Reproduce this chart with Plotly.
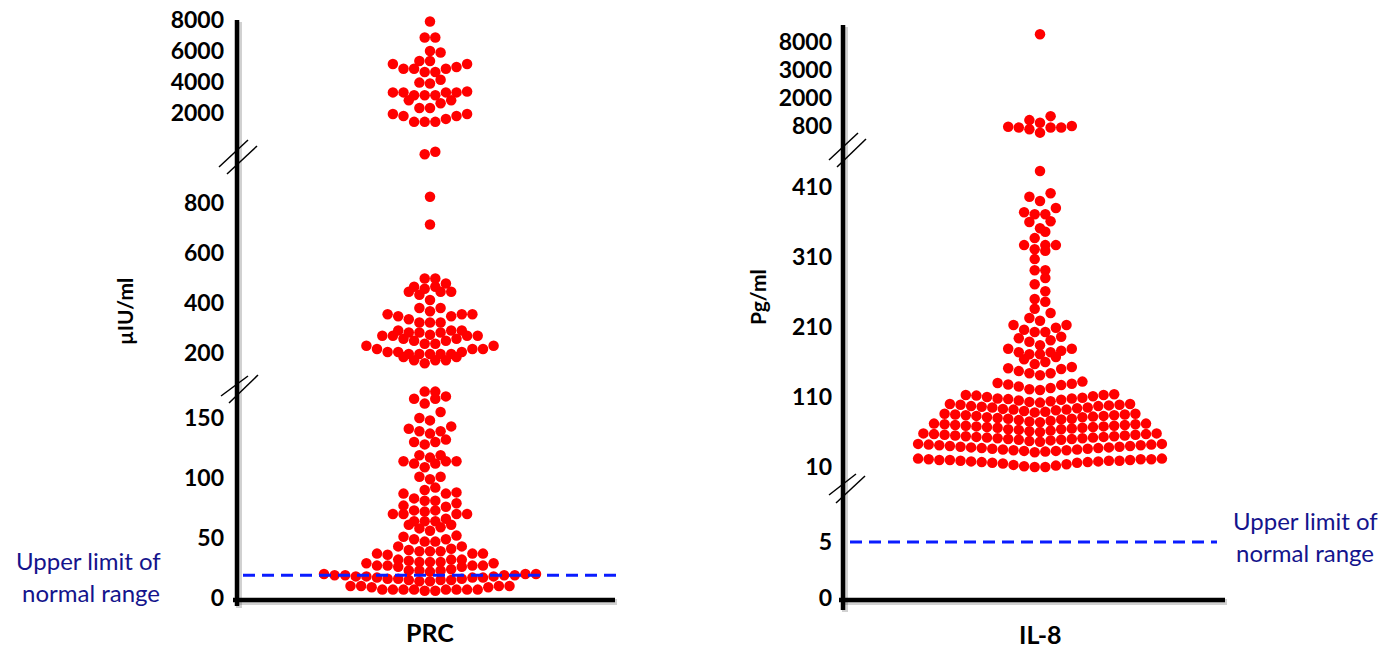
import numpy as np
import plotly.graph_objects as go

W, H = 1389, 653

# ------------------------------------------------------------------ data
# PRC (µIU/ml) – three segments of a broken axis
prc_high = [7900, 6870, 6870, 6000, 5900, 5350, 5350, 5160, 5160, 4970, 4850, 4850,
            4850, 4650, 4650, 4150, 3960, 3900, 3390, 3330, 3330, 3330, 3330, 3140,
            3140, 3140, 2820, 2820, 2630, 2320, 2320, 1940, 1940, 1810, 1810, 1620,
            1430, 1430, 1430]
prc_mid = [1005, 995, 825, 714, 498, 498, 478, 465, 465, 457, 445, 445, 445, 433, 412,
           380, 380, 367, 355, 355, 355, 347, 347, 335, 322, 322, 322, 290, 290, 290,
           282, 282, 282, 273, 269, 269, 269, 269, 257, 257, 249, 249, 237, 237, 229,
           229, 216, 216, 216, 204, 204, 204, 196, 196, 196, 196, 196, 184, 184, 171,
           171, 171, 159]
prc_low = [172, 172, 168, 166, 166, 162, 155, 150, 148, 143, 141, 139, 139, 137, 132,
           130, 130, 128, 119, 119, 117, 114, 114, 114, 112, 112, 109, 101, 101, 99,
           92, 90, 88, 87, 87, 83, 81, 81, 79, 77, 76, 73, 73, 72, 70, 70, 70, 70,
           66, 64, 64, 64, 61, 61, 59, 58, 56, 52, 51, 49, 49, 47, 47, 43, 43, 41,
           40, 39, 39, 39, 37, 37, 37, 36, 32, 32, 32, 31, 30, 30, 30, 29, 29, 27,
           27, 27, 27, 26, 26, 24, 23, 23, 23, 22, 20, 20, 20, 19, 19, 19, 19,
           18, 18, 18, 17, 17, 17, 16, 16, 16, 15, 15, 15, 14, 14,
           10, 10, 10, 10, 9, 9, 7, 7, 7, 7, 7, 7, 7, 7, 6, 6]
prc_limit = 19

# IL-8 (Pg/ml)
il8_high = [10500, 1105, 970, 890, 800, 780, 760, 760, 760, 720, 644]
il8_mid = [433, 401, 396, 390, 380, 374, 371, 371, 361, 360, 351, 346, 337, 327, 327,
           327, 321, 319, 307, 291, 291, 280, 271, 261, 250, 246, 236, 230, 223, 219,
           213, 213, 209, 206, 203, 203, 196, 194, 191, 189, 184, 179, 179, 176, 174,
           174, 171, 171, 167, 164, 160, 157, 153, 151, 150, 147, 144, 144, 141,
           132, 130, 129, 128, 127, 125, 123, 121, 120,
           114, 113, 113, 112, 111, 110, 109, 108, 108, 107, 106, 105, 104, 103, 102,
           100, 100, 99, 99, 98, 97, 97, 96, 95, 95, 94, 93, 92, 92, 91, 90, 89, 88,
           86, 86, 85, 85, 84, 84, 83, 83, 82, 81, 81, 80, 79, 79, 78, 77, 76, 75, 74,
           72, 72, 71, 71, 70, 70, 69, 69, 68, 68, 67, 67, 66, 66, 65, 64, 64, 63, 62,
           61, 60,
           58, 58, 57, 57, 56, 56, 55, 55, 54, 54, 53, 53, 52, 52, 51, 51, 50, 50, 49,
           49, 48, 47, 46,
           43, 43, 42, 42, 41, 41, 40, 40, 39, 39, 38, 38, 37, 37, 36, 36, 35, 35, 34,
           34, 33, 33, 32, 31,
           22, 22, 21, 21, 21, 20, 20, 20, 19, 19, 19, 18, 18, 17, 17, 16, 16, 15, 14,
           13, 12, 11, 10, 10]
il8_limit = 5

categories = ["PRC", "IL-8"]
y_titles = ["µIU/ml", "Pg/ml"]
limit_label = ["Upper limit of", "normal range"]

# ------------------------------------------------------------------ geometry (pixels)
FONT = "Lato"
panels = {
    "L": dict(x0=237, x1=615, cx=430),
    "R": dict(x0=843, x1=1225, cx=1040),
}
# The top IL-8 segment uses evenly spaced labels (800, 2000, 3000, 8000) as in the
# original; values are placed on a log scale interpolated between those labels.
IL8_TOP_TICKS = [800, 2000, 3000, 8000]


def anchored_scale(v, anchors):
    """Piecewise log scale: each labelled anchor sits one unit above the previous."""
    lv = np.log10(np.asarray(v, dtype=float))
    la = np.log10(np.asarray(anchors, dtype=float))
    out = np.empty_like(lv)
    for i, x in enumerate(lv):
        if x <= la[0]:
            k = 0
        elif x >= la[-1]:
            k = len(la) - 2
        else:
            k = int(np.searchsorted(la, x) - 1)
        out[i] = k + (x - la[k]) / (la[k + 1] - la[k])
    return out


segments = [
    dict(panel="L", bot=600, top=385, rng=[-1.67, 177.5], scale="linear",
         ticks=[0, 50, 100, 150], data=prc_low),
    dict(panel="L", bot=385, top=150, rng=[72, 1012], scale="linear",
         ticks=[200, 400, 600, 800], data=prc_mid),
    dict(panel="L", bot=150, top=10, rng=[-387, 8645], scale="linear",
         ticks=[2000, 4000, 6000, 8000], data=prc_high),
    dict(panel="R", bot=600, top=485, rng=[-0.18, 10.09], scale="linear",
         ticks=[0, 5], data=[]),
    dict(panel="R", bot=485, top=150, rng=[-15.7, 462.9], scale="linear",
         ticks=[10, 110, 210, 310, 410], data=il8_mid),
    dict(panel="R", bot=150, top=20, rng=[-0.857, 3.786], scale="anchored",
         ticks=IL8_TOP_TICKS, data=il8_high),
]


def axis_coord(seg, v):
    if seg["scale"] == "anchored":
        return anchored_scale(v, seg["ticks"])
    return np.asarray(v, dtype=float)


def val_to_px(seg, v):
    c = axis_coord(seg, v)
    r0, r1 = seg["rng"]
    return seg["bot"] - (c - r0) / (r1 - r0) * (seg["bot"] - seg["top"])


def row_scatter(py, spacing, row_h):
    """Scatter-dot layout: points within row_h px of each other share a row and are
    laid side by side, centred on the category."""
    py = np.asarray(py, dtype=float)
    xs = np.zeros(len(py))
    order = list(np.argsort(-py, kind="stable"))
    while order:
        start = py[order[0]]
        row = [i for i in order if start - py[i] < row_h]
        order = [i for i in order if i not in row]
        n = len(row)
        slots = (np.arange(n) - (n - 1) / 2.0) * spacing
        # centre-out assignment: the lowest dots of a row sit in its middle
        slots = sorted(slots, key=lambda s: (abs(s), s))
        row_sorted = sorted(row, key=lambda i: -py[i])
        for k, i in enumerate(row_sorted):
            xs[i] = slots[k]
    return xs


fig = go.Figure()
layout = dict(width=W, height=H, margin=dict(l=0, r=0, t=0, b=0, pad=0, autoexpand=False),
              template="none",
              paper_bgcolor="white", plot_bgcolor="rgba(0,0,0,0)", showlegend=False)

DOT = 10.5
SPACING = 10.6
ROW_H = 9.0
for pname in panels:
    segs = [s for s in segments if s["panel"] == pname]
    allpx, idx = [], []
    for k, s in enumerate(segs):
        p = val_to_px(s, s["data"]) if len(s["data"]) else np.array([])
        allpx.extend(list(p))
        idx.extend([k] * len(p))
    xs_all = row_scatter(allpx, SPACING, ROW_H)
    idx = np.array(idx)
    for k, s in enumerate(segs):
        s["xoff"] = xs_all[idx == k] if len(idx) else np.array([])

for n, s in enumerate(segments, start=1):
    pn = panels[s["panel"]]
    xa = "x" if n == 1 else f"x{n}"
    ya = "y" if n == 1 else f"y{n}"
    layout["xaxis" if n == 1 else f"xaxis{n}"] = dict(
        domain=[pn["x0"] / W, pn["x1"] / W],
        range=[pn["x0"] - pn["cx"], pn["x1"] - pn["cx"]],
        visible=False, anchor=ya, fixedrange=True, automargin=False)
    tv = axis_coord(s, s["ticks"])
    layout["yaxis" if n == 1 else f"yaxis{n}"] = dict(
        domain=[1 - s["bot"] / H, 1 - s["top"] / H],
        range=s["rng"], type="linear",
        anchor=xa, tickvals=list(tv), ticktext=[str(t) for t in s["ticks"]],
        ticks="", showgrid=False, zeroline=False, showline=False, automargin=False,
        ticklabelstandoff=12 if s["panel"] == "L" else 10,
        tickfont=dict(family=FONT, size=23, color="black", weight="bold"),
        fixedrange=True)
    if len(s["data"]):
        fig.add_trace(go.Scatter(
            x=s["xoff"], y=axis_coord(s, s["data"]), customdata=s["data"],
            hovertemplate="%{customdata}<extra></extra>",
            xaxis=xa, yaxis=ya, mode="markers",
            marker=dict(size=DOT, color="#ff0000", line=dict(width=0)),
            cliponaxis=False))

# ------------------------------------------------------------------ shapes
shapes = []


def pline(x0, y0, x1, y1, color="black", width=4, dash=None):
    d = dict(type="line", xref="paper", yref="paper",
             x0=x0 / W, x1=x1 / W, y0=1 - y0 / H, y1=1 - y1 / H,
             line=dict(color=color, width=width))
    if dash:
        d["line"]["dash"] = dash
    shapes.append(d)


axes_lines = [
    (237, 20, 237, 606), (233, 600, 615, 600),
    (843, 25, 843, 610), (839, 600, 1225, 600),
]
for x0, y0, x1, y1 in axes_lines:
    pline(x0 + 2, y0 + 2, x1 + 2, y1 + 2, color="rgba(0,0,0,0.18)", width=6)
for x0, y0, x1, y1 in axes_lines:
    pline(x0, y0, x1, y1, width=4.5)

breaks = [
    ((219, 167, 248, 140), (227, 174, 257, 146)),
    ((221, 396, 248, 376), (229, 403, 258, 375)),
    ((829, 160, 858, 133), (837, 167, 866, 139)),
    ((829, 495, 856, 474), (836, 503, 865, 476)),
]
for pair in breaks:
    for (x0, y0, x1, y1) in pair:
        pline(x0, y0, x1, y1, width=1.5)

# upper-limit dashed lines in data coordinates
shapes.append(dict(type="line", xref="paper", yref="y", x0=243 / W, x1=617 / W,
                   y0=prc_limit, y1=prc_limit,
                   line=dict(color="#0a1cff", width=3, dash="12px,7px")))
shapes.append(dict(type="line", xref="paper", yref="y4", x0=850 / W, x1=1217 / W,
                   y0=il8_limit, y1=il8_limit,
                   line=dict(color="#0a1cff", width=3, dash="12px,7px")))
layout["shapes"] = shapes

# ------------------------------------------------------------------ annotations
ann = []


def text(x, y, t, size, bold=False, color="black", angle=0):
    ann.append(dict(x=x / W, y=1 - y / H, xref="paper", yref="paper", text=t,
                    showarrow=False, xanchor="center", yanchor="middle",
                    textangle=angle,
                    font=dict(family=FONT, size=size, color=color,
                              weight="bold" if bold else "normal")))


text(430, 632, categories[0], 25, bold=True)
text(1040, 634, categories[1], 25, bold=True)
text(125, 312, y_titles[0], 21, bold=True, angle=-90)
text(758, 297, y_titles[1], 21, bold=True, angle=-90)
NAVY = "#14148c"
text(88, 560, limit_label[0], 24, color=NAVY)
text(91, 592, limit_label[1], 24, color=NAVY)
text(1305, 520, limit_label[0], 24, color=NAVY)
text(1305, 552, limit_label[1], 24, color=NAVY)
layout["annotations"] = ann

fig.update_layout(**layout)
fig.write_html("out.html")
